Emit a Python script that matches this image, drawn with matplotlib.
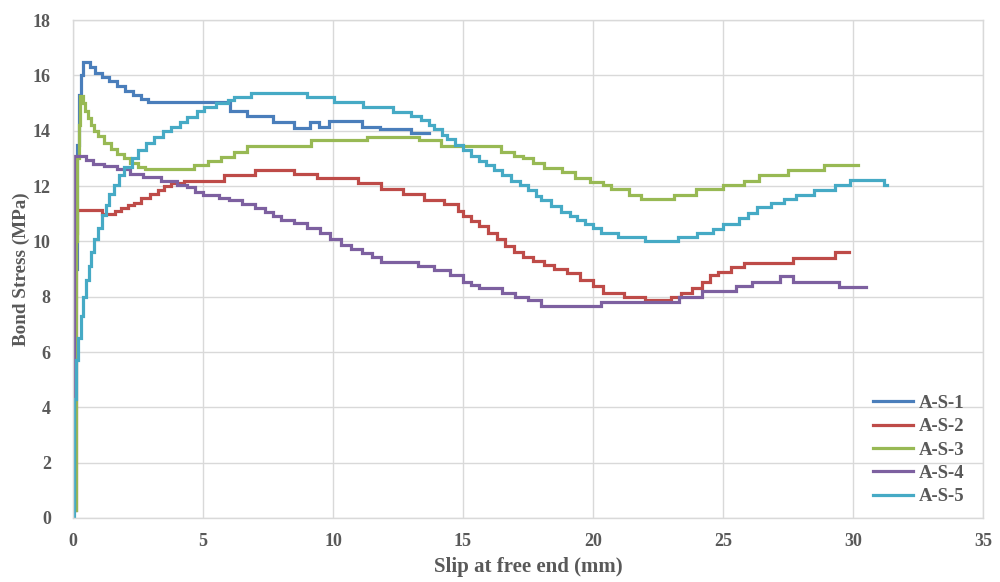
import matplotlib
matplotlib.use("Agg")
import matplotlib.pyplot as plt

# Bond stress vs. free-end slip for five pull-out specimens.
# Each pair of lists gives (slip where a level starts, stress level).
labels = ["A-S-1", "A-S-2", "A-S-3", "A-S-4", "A-S-5"]
colors = ["#4A7EBB", "#BE4B48", "#98B954", "#7D60A0", "#46AAC5"]

s1_x = [0.00, 0.08, 0.15, 0.22, 0.30, 0.40, 0.65, 0.85, 1.1, 1.4, 1.7, 2.0, 2.3, 2.6, 2.9,
        6.05, 6.7, 7.7, 8.5, 9.1, 9.45, 9.85, 11.1, 11.8, 13.0, 13.7]
s1_y = [0.3, 9.0, 13.5, 15.3, 16.0, 16.5, 16.3, 16.1, 15.95, 15.8, 15.6, 15.45, 15.3, 15.15, 15.05,
        14.7, 14.53, 14.32, 14.1, 14.32, 14.15, 14.35, 14.15, 14.05, 13.9, 13.9]

s2_x = [0.00, 0.10, 0.16, 1.1, 1.6, 1.85, 2.1, 2.35, 2.6, 2.95, 3.26, 3.5, 3.77, 4.27, 5.8, 7.0,
        8.5, 9.4, 10.95, 11.85, 12.7, 13.5, 14.27, 14.8, 15.0, 15.3, 15.6, 15.96, 16.3, 16.6,
        16.96, 17.3, 17.7, 18.1, 18.5, 19.0, 19.5, 20.0, 20.4, 21.2, 22.0, 23.0, 23.4, 23.8,
        24.2, 24.5, 24.8, 25.3, 25.8, 27.7, 29.3, 29.85]
s2_y = [0.3, 10.3, 11.15, 11.0, 11.1, 11.2, 11.3, 11.4, 11.55, 11.7, 11.85, 12.0, 12.1, 12.2, 12.4, 12.58,
        12.45, 12.3, 12.1, 11.9, 11.7, 11.5, 11.35, 11.1, 10.9, 10.75, 10.55, 10.3, 10.1, 9.85,
        9.6, 9.45, 9.3, 9.15, 9.0, 8.85, 8.6, 8.38, 8.12, 8.0, 7.88, 8.0, 8.13, 8.3,
        8.53, 8.78, 8.9, 9.08, 9.2, 9.4, 9.62, 9.62]

s3_x = [0.00, 0.10, 0.16, 0.22, 0.28, 0.38, 0.45, 0.56, 0.70, 0.82, 0.95, 1.2, 1.46, 1.7, 1.97,
        2.2, 2.5, 2.75, 4.65, 5.2, 5.7, 6.2, 6.7, 9.15, 11.3, 13.3, 14.15, 16.46, 16.96, 17.3,
        17.7, 18.1, 18.8, 19.3, 19.9, 20.4, 20.7, 21.4, 21.85, 23.1, 23.96, 25.0, 25.8, 26.4,
        27.5, 28.9, 30.2]
s3_y = [0.3, 10.0, 13.0, 14.2, 15.25, 15.0, 14.7, 14.45, 14.2, 14.0, 13.8, 13.55, 13.35, 13.15, 13.0,
        12.85, 12.7, 12.6, 12.76, 12.9, 13.06, 13.24, 13.45, 13.66, 13.78, 13.66, 13.45, 13.24, 13.1, 13.0,
        12.85, 12.65, 12.5, 12.3, 12.15, 12.03, 11.88, 11.67, 11.52, 11.67, 11.88, 12.03, 12.2, 12.4,
        12.58, 12.75, 12.75]

s4_x = [0.00, 0.04, 0.5, 0.75, 1.2, 1.7, 2.2, 2.7, 3.4, 4.0, 4.4, 4.7, 5.0, 5.6, 6.0, 6.5, 7.0,
        7.4, 7.7, 8.0, 8.5, 9.0, 9.5, 9.9, 10.3, 10.7, 11.1, 11.5, 11.85, 13.25, 13.9, 14.5,
        15.0, 15.3, 15.6, 16.5, 17.0, 17.5, 18.0, 20.3, 23.3, 24.2, 25.5, 26.1, 27.2, 27.7,
        29.45, 30.5]
s4_y = [0.3, 13.1, 12.93, 12.8, 12.72, 12.6, 12.45, 12.33, 12.2, 12.05, 11.95, 11.8, 11.68, 11.55, 11.48,
        11.35, 11.2, 11.05, 10.9, 10.77, 10.65, 10.48, 10.3, 10.1, 9.87, 9.72, 9.57, 9.42, 9.26,
        9.1, 8.96, 8.78, 8.54, 8.42, 8.3, 8.12, 8.0, 7.88, 7.65, 7.82, 8.0, 8.2, 8.38, 8.54,
        8.76, 8.54, 8.35, 8.35]

s5_x = [0.00, 0.03, 0.10, 0.20, 0.30, 0.40, 0.50, 0.60, 0.70, 0.82, 0.95, 1.1, 1.25, 1.4, 1.58,
        1.78, 1.97, 2.25, 2.5, 2.8, 3.1, 3.45, 3.77, 4.1, 4.4, 4.75, 5.04, 5.5, 5.96, 6.2, 6.85,
        9.0, 10.05, 11.15, 12.3, 13.0, 13.4, 13.7, 13.9, 14.2, 14.4, 14.7, 15.0, 15.3, 15.6,
        15.9, 16.2, 16.5, 16.85, 17.2, 17.5, 17.8, 18.0, 18.4, 18.77, 19.1, 19.4, 19.7, 20.0,
        20.3, 20.95, 22.0, 23.25, 24.0, 24.6, 25.0, 25.6, 25.95, 26.3, 26.85, 27.35, 27.8,
        28.5, 29.3, 29.9, 31.2, 31.3]
s5_y = [0.0, 4.3, 5.7, 6.5, 7.3, 8.0, 8.6, 9.1, 9.6, 10.1, 10.5, 10.95, 11.3, 11.7, 12.05,
        12.4, 12.7, 13.0, 13.3, 13.55, 13.78, 13.98, 14.15, 14.33, 14.5, 14.7, 14.87, 15.0, 15.1, 15.23, 15.38,
        15.23, 15.05, 14.87, 14.69, 14.55, 14.4, 14.2, 14.05, 13.85, 13.7, 13.5, 13.3, 13.1, 12.92,
        12.75, 12.58, 12.4, 12.2, 12.02, 11.85, 11.65, 11.49, 11.28, 11.07, 10.92, 10.77, 10.62, 10.48,
        10.29, 10.15, 10.0, 10.15, 10.3, 10.46, 10.64, 10.86, 11.03, 11.23, 11.37, 11.52, 11.67,
        11.85, 12.03, 12.21, 12.05, 12.05]

series = [(s1_x, s1_y), (s2_x, s2_y), (s3_x, s3_y), (s4_x, s4_y), (s5_x, s5_y)]

x_ticks = [0, 5, 10, 15, 20, 25, 30, 35]
y_ticks = [0, 2, 4, 6, 8, 10, 12, 14, 16, 18]

text_color = "#595959"
grid_color = "#D9D9D9"
serif = ["Liberation Serif", "DejaVu Serif"]

fig = plt.figure(figsize=(10, 5.82), dpi=100)
ax = fig.add_axes([0.073, 0.110, 0.910, 0.8555])

for (xs, ys), lab, col in zip(series, labels, colors):
    ax.plot(xs, ys, drawstyle="steps-post", color=col, lw=2.3, label=lab,
            solid_joinstyle="miter")

ax.set_xlim(0, 35)
ax.set_ylim(0, 18)
ax.set_xticks(x_ticks)
ax.set_yticks(y_ticks)
ax.grid(True, color=grid_color, lw=1.0)
ax.set_axisbelow(True)
for sp in ax.spines.values():
    sp.set_color(grid_color)
    sp.set_linewidth(1.0)
ax.tick_params(length=0, colors=text_color, labelsize=13)
ax.tick_params(axis="x", pad=11)
ax.tick_params(axis="y", pad=16)
for t in ax.get_xticklabels() + ax.get_yticklabels():
    t.set_fontfamily(serif)
    t.set_fontweight("bold")

ax.set_xlabel("Slip at free end (mm)", fontsize=15, fontweight="bold",
              family=serif, color=text_color, labelpad=5)
ax.set_ylabel("Bond Stress (MPa)", fontsize=13.8, fontweight="bold",
              family=serif, color=text_color, labelpad=2)

leg = ax.legend(loc="center left", bbox_to_anchor=(0.873, 0.2268),
                bbox_transform=fig.transFigure, frameon=False,
                prop={"family": serif, "weight": "bold", "size": 13.5},
                handlelength=2.15, handletextpad=0.27, labelspacing=0.33,
                borderpad=0, borderaxespad=0)
for t in leg.get_texts():
    t.set_color(text_color)

fig.savefig("out.png", dpi=100)
